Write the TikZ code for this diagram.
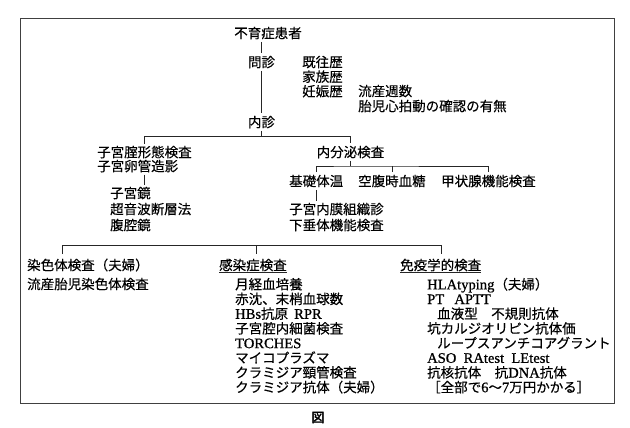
\documentclass[tikz,border=0pt]{standalone}
\usepackage{fontspec}
\setmainfont{Noto Sans CJK JP}[RawFeature={embolden=0.4}]
\newfontfamily\latn{Liberation Serif}[Scale=1.08, RawFeature={embolden=0.8}]
\newfontfamily\figfont{Noto Sans CJK JP}[RawFeature={embolden=2.5}]
\tikzset{
  txt/.style={inner sep=0pt, anchor=west, text height=11.9pt, text depth=1.6pt},
  mid/.style={inner sep=0pt, text height=11.9pt, text depth=1.6pt},
  lst/.style={inner sep=0pt, anchor=north west, align=left},
  conn/.style={draw=black!85, line width=.6pt, shorten <=2pt, shorten >=2pt}
}
\begin{document}
\begin{tikzpicture}[x=1pt, y=-1pt, font=\fontsize{13.5}{14.6}\selectfont]
\useasboundingbox (0,0) rectangle (630,428);
\draw[black!75, line width=.8pt] (20.5,18.3) rectangle (614,403);

\node[mid] (pat) at (268,33) {不育症患者};
\node[mid] (mon) at (261.5,62) {問診};
\node[mid] (nai) at (261.5,122) {内診};
\node[lst] (reki) at (302,55.6) {既往歴\\家族歴\\妊娠歴};
\node[lst, font=\fontsize{13.5}{15}\selectfont] (ryu) at (358,84.6) {流産週数\\胎児心拍動の確認の有無};

\node[lst, font=\fontsize{13.5}{14}\selectfont] (kei) at (97,145.6) {子宮腟形態検査\\子宮卵管造影};
\node[lst, font=\fontsize{13.5}{16}\selectfont] (kyo) at (110,186.6) {子宮鏡\\超音波断層法\\腹腔鏡};
\node[mid] (nbp) at (350.5,152) {内分泌検査};
\node[txt] (kiso) at (289,181) {基礎体温};
\node[txt] (kuf) at (358,181) {空腹時血糖};
\node[txt] (kou) at (441,181) {甲状腺機能検査};
\node[lst, font=\fontsize{13.5}{16}\selectfont] (nmk) at (289,202.6) {子宮内膜組織診\\下垂体機能検査};

\coordinate (j1) at (261.5,136.7);
\coordinate (j2) at (350.5,166);
\draw[conn] (pat.south -| mon.north) -- (mon.north);
\draw[conn] (mon.south) -- (nai.north);
\draw[conn, shorten >=0pt] (nai.south) -- (j1);
\draw[conn] (kei.north) |- (j1) -| (nbp.north);
\draw[conn] (kei.south) -- (kei.south |- kyo.north);
\draw[conn, shorten >=0pt] (nbp.south) -- (j2);
\draw[conn] (kiso.north) |- (j2) -| (kou.north);
\draw[conn, shorten <=0pt] (j2 -| kuf.north) -- (kuf.north);
\draw[conn] (kiso.south) -- (kiso.south |- nmk.north);

\node[txt] (sen) at (27,265) {染色体検査（夫婦）};
\node[txt] (sen2) at (27,284) {流産胎児染色体検査};
\node[txt] (kan) at (219,265) {感染症検査};
\node[txt] (men) at (400,265) {免疫学的検査};
\draw[conn, shorten <=0pt, shorten >=0pt] (kan.south west) -- (kan.south east);
\draw[conn, shorten <=0pt, shorten >=0pt] (men.south west) -- (men.south east);

\coordinate (b1) at (62,245.7);
\coordinate (b2) at (256,245.7);
\coordinate (b3) at (441,245.7);
\draw[conn, shorten <=4pt, shorten >=4pt] (b1 |- sen.north) -- (b1) -- (b3) -- (b3 |- men.north);
\draw[conn, shorten <=0pt, shorten >=4pt] (b2) -- (b2 |- kan.north);

\foreach \i/\lab in {1/月経血培養, 2/赤沈、末梢血球数, 3/{\latn HBs}抗原\hspace{.45em}{\latn RPR},
    4/子宮腔内細菌検査, 5/{\latn TORCHES}, 6/マイコプラズマ,
    7/クラミジア頸管検査, 8/クラミジア抗体（夫婦）}
  \node[txt] (kan\i) at (235,269.5+14.7*\i) {\lab};
\foreach \i/\dx/\lab in {1/0/{\latn HLAtyping}（夫婦）, 2/0/{\latn PT\hspace{.7em}APTT},
    3/10/血液型　不規則抗体, 4/0/坑カルジオリピン抗体価, 5/10/ループスアンチコアグラント,
    6/0/{\latn ASO\hspace{.5em}RAtest\hspace{.5em}LEtest}, 7/0/抗核抗体　抗{\latn DNA}抗体,
    8/0/［全部で{\latn 6}～{\latn 7}万円かかる］}
  \node[txt] (men\i) at (427+\dx,269.5+14.7*\i) {\lab};

\node[mid, font=\fontsize{13}{14}\figfont] (fig) at (318,417) {図};
\end{tikzpicture}
\end{document}
